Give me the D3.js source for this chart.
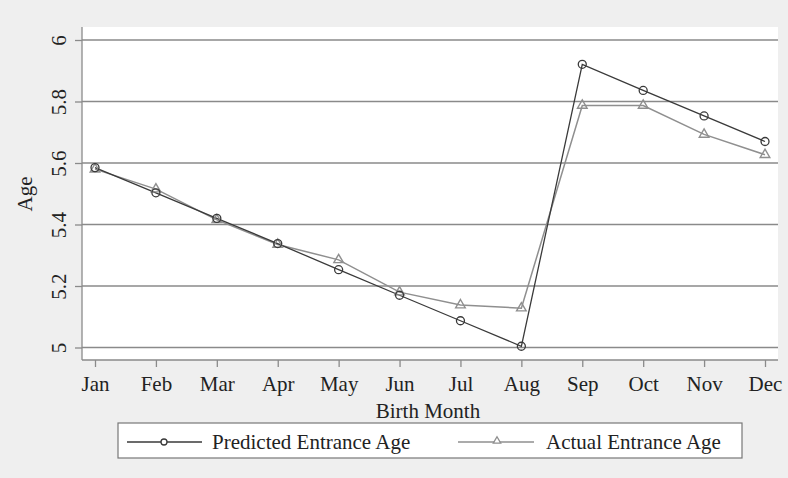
<!DOCTYPE html>
<html><head><meta charset="utf-8">
<script src="https://cdn.jsdelivr.net/npm/d3@7"></script>
<style>body{margin:0;background:#efefef;}svg{display:block;}</style>
</head><body>
<script>
const months = ["Jan","Feb","Mar","Apr","May","Jun","Jul","Aug","Sep","Oct","Nov","Dec"];
const predicted = [5.585,5.503,5.42,5.338,5.253,5.17,5.087,5.004,5.921,5.836,5.753,5.67];
const actual = [5.58,5.515,5.415,5.335,5.285,5.18,5.138,5.128,5.787,5.787,5.693,5.627];
const yTicks = [5,5.2,5.4,5.6,5.8,6];
const yTickLabels = ["5","5.2","5.4","5.6","5.8","6"];

const W=788,H=478;
const svg=d3.select("body").append("svg").attr("width",W).attr("height",H);
svg.append("rect").attr("width",W).attr("height",H).attr("fill","#efefef");
const font="Liberation Serif, Times New Roman, serif";
const FS=21;
const px0=82, px1=778, py0=27, py1=360;
svg.append("rect").attr("x",px0).attr("y",py0).attr("width",px1-px0).attr("height",py1-py0).attr("fill","#fff");

const x=d3.scalePoint().domain(months).range([95,765]);
const y=d3.scaleLinear().domain([5,6]).range([347.5,40]);

// grid
svg.append("g").selectAll("line").data(yTicks).join("line")
 .attr("x1",px0).attr("x2",px1).attr("y1",d=>y(d)).attr("y2",d=>y(d))
 .attr("stroke","#8a8a8a").attr("stroke-width",1.3);

// y axis
const ya=svg.append("g").attr("transform",`translate(${px0},0)`)
 .call(d3.axisLeft(y).tickValues(yTicks).tickFormat((d,i)=>yTickLabels[i]).tickSize(7).tickSizeOuter(0));
ya.select(".domain").attr("d",`M0,${py0}V${py1}`).attr("stroke","#8a8a8a").attr("stroke-width",1.3);
ya.selectAll(".tick line").attr("stroke","#8a8a8a").attr("stroke-width",1.3);
ya.selectAll(".tick text").attr("font-family",font).attr("font-size",FS).attr("fill","#222")
 .attr("text-anchor","middle").attr("x",0).attr("y",0).attr("dy","0")
 .attr("transform","translate(-16,0) rotate(-90)");

// x axis
const xa=svg.append("g").attr("transform",`translate(0,${py1})`)
 .call(d3.axisBottom(x).tickSize(7).tickSizeOuter(0));
xa.select(".domain").attr("d",`M${px0},0H${px1}`).attr("stroke","#8a8a8a").attr("stroke-width",1.3);
xa.selectAll(".tick line").attr("stroke","#8a8a8a").attr("stroke-width",1.3);
xa.selectAll(".tick text").attr("font-family",font).attr("font-size",FS).attr("fill","#222").attr("y",31).attr("dy","0");

// axis titles
svg.append("text").attr("x",428).attr("y",418).attr("text-anchor","middle").attr("font-family",font).attr("font-size",FS).attr("fill","#222").text("Birth Month");
svg.append("text").attr("transform","translate(32,194) rotate(-90)").attr("text-anchor","middle").attr("font-family",font).attr("font-size",FS).attr("fill","#222").text("Age");

const line=d3.line().x((d,i)=>x(months[i])).y(d=>y(d));
const cPred="#3a3a3a", cAct="#8f8f8f";
svg.append("path").datum(actual).attr("d",line).attr("fill","none").attr("stroke",cAct).attr("stroke-width",1.5);
svg.append("path").datum(predicted).attr("d",line).attr("fill","none").attr("stroke",cPred).attr("stroke-width",1.3);
const tri=d3.symbol().type(d3.symbolTriangle).size(40);
svg.append("g").selectAll("path").data(actual).join("path")
 .attr("d",tri).attr("transform",(d,i)=>`translate(${x(months[i])},${y(d)})`)
 .attr("fill","none").attr("stroke",cAct).attr("stroke-width",1.4);
svg.append("g").selectAll("circle").data(predicted).join("circle")
 .attr("cx",(d,i)=>x(months[i])).attr("cy",d=>y(d)).attr("r",4)
 .attr("fill","none").attr("stroke",cPred).attr("stroke-width",1.3);

// legend
const lg=svg.append("g");
lg.append("rect").attr("x",118).attr("y",423).attr("width",624).attr("height",35).attr("fill","#fff").attr("stroke","#777").attr("stroke-width",1.2);
lg.append("line").attr("x1",127).attr("x2",202).attr("y1",442).attr("y2",442).attr("stroke",cPred).attr("stroke-width",1.3);
lg.append("circle").attr("cx",164).attr("cy",442).attr("r",3).attr("fill","#fff").attr("stroke",cPred).attr("stroke-width",1.3);
lg.append("text").attr("x",212).attr("y",449).attr("font-family",font).attr("font-size",FS).attr("fill","#222").text("Predicted Entrance Age");
lg.append("line").attr("x1",458).attr("x2",534).attr("y1",442).attr("y2",442).attr("stroke",cAct).attr("stroke-width",1.4);
lg.append("path").attr("d",d3.symbol().type(d3.symbolTriangle).size(24)).attr("transform","translate(497,441)").attr("fill","#fff").attr("stroke",cAct).attr("stroke-width",1.3);
lg.append("text").attr("x",546).attr("y",449).attr("font-family",font).attr("font-size",FS).attr("fill","#222").text("Actual Entrance Age");
</script>
</body></html>
